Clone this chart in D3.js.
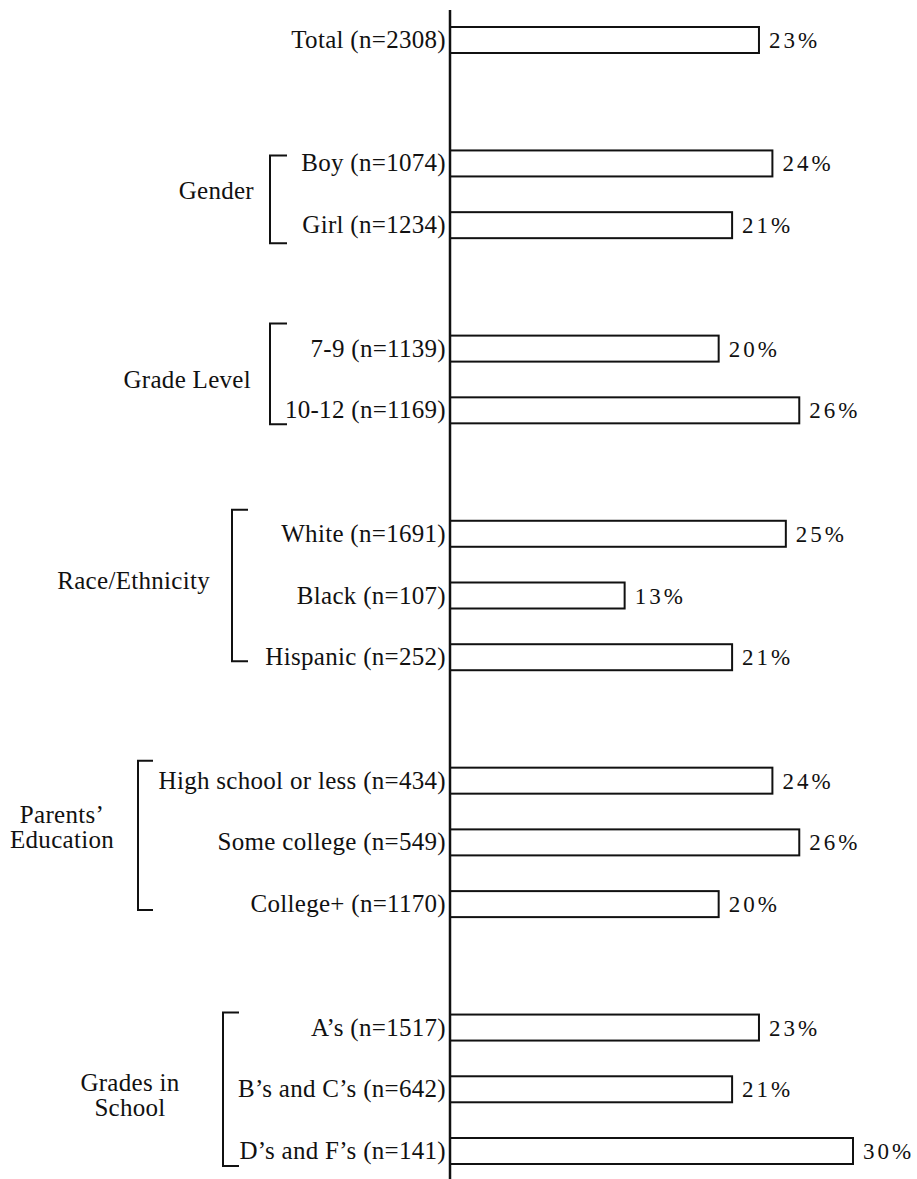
<!DOCTYPE html>
<html>
<head>
<meta charset="utf-8">
<script src="https://cdn.jsdelivr.net/npm/d3@7"></script>
<style>
  html, body { margin: 0; padding: 0; background: #fff; }
  svg { display: block; }
  text { font-family: "Liberation Serif", "Times New Roman", serif; fill: #111; }
</style>
</head>
<body>
<svg id="chart" width="917" height="1179"></svg>
<script>
// ---- data ----
const groups = ["Total", "Gender", "Grade Level", "Race/Ethnicity", "Parents’ Education", "Grades in School"];
const categories = [
  "Total (n=2308)",
  "Boy (n=1074)", "Girl (n=1234)",
  "7-9 (n=1139)", "10-12 (n=1169)",
  "White (n=1691)", "Black (n=107)", "Hispanic (n=252)",
  "High school or less (n=434)", "Some college (n=549)", "College+ (n=1170)",
  "A’s (n=1517)", "B’s and C’s (n=642)", "D’s and F’s (n=141)"
];
const categoryGroup = [0, 1, 1, 2, 2, 3, 3, 3, 4, 4, 4, 5, 5, 5];
const values = [23, 24, 21, 20, 26, 25, 13, 21, 24, 26, 20, 23, 21, 30];
const groupLabelLines = [
  [],
  ["Gender"],
  ["Grade Level"],
  ["Race/Ethnicity"],
  ["Parents’", "Education"],
  ["Grades in", "School"]
];

// ---- layout (not data) ----
const W = 917, H = 1179;
const axisX = 450;
const svg = d3.select("#chart");

// slots: one row per category, with a blank slot between groups
const slots = [];
categories.forEach((c, i) => {
  if (i > 0 && categoryGroup[i] !== categoryGroup[i - 1]) slots.push("gap" + i);
  slots.push(c);
});

const y = d3.scalePoint().domain(slots).range([40, 1151]);
const x = d3.scaleLinear().domain([0, 30]).range([axisX, 853]);
const barH = 26;

const rows = categories.map((c, i) => ({ cat: c, value: values[i], group: categoryGroup[i] }));

// bars
svg.append("g").selectAll("rect").data(rows).join("rect")
  .attr("x", x(0))
  .attr("y", d => y(d.cat) - barH / 2)
  .attr("width", d => x(d.value) - x(0))
  .attr("height", barH)
  .attr("fill", "#fff")
  .attr("stroke", "#111")
  .attr("stroke-width", 2);

// axis line
svg.append("line")
  .attr("x1", axisX).attr("x2", axisX)
  .attr("y1", 10).attr("y2", H)
  .attr("stroke", "#111").attr("stroke-width", 2.5);

// category labels
svg.append("g").selectAll("text").data(rows).join("text")
  .attr("x", axisX - 4)
  .attr("y", d => y(d.cat) + 8)
  .attr("text-anchor", "end")
  .style("font-size", "25px")
  .style("letter-spacing", "0.3px")
  .text(d => d.cat);

// value labels
svg.append("g").selectAll("text").data(rows).join("text")
  .attr("x", d => x(d.value) + 10)
  .attr("y", d => y(d.cat) + 8)
  .style("font-size", "23px")
  .style("letter-spacing", "3px")
  .text(d => d.value + "%");

// group brackets and labels
const groupLayout = {
  1: { bx: 270, top: -8, bottom: 18, tick: 17, lx: 254, anchor: "end", dy: -3 },
  2: { bx: 270, top: -25, bottom: 14, tick: 17, lx: 251, anchor: "end", dy: 1 },
  3: { bx: 232, top: -24, bottom: 4, tick: 16, lx: 210, anchor: "end", dy: -15 },
  4: { bx: 138, top: -20, bottom: 6, tick: 15, lx: 62, anchor: "middle", dy: -27 },
  5: { bx: 223, top: -15, bottom: 15, tick: 16, lx: 130, anchor: "middle", dy: -6 }
};

d3.range(1, groups.length).forEach(g => {
  const L = groupLayout[g];
  const members = rows.filter(r => r.group === g);
  const y0 = y(members[0].cat) + L.top;
  const y1 = y(members[members.length - 1].cat) + L.bottom;
  svg.append("path")
    .attr("d", `M${L.bx + L.tick},${y0}H${L.bx}V${y1}H${L.bx + L.tick}`)
    .attr("fill", "none").attr("stroke", "#111").attr("stroke-width", 2);
  const mid = (y(members[0].cat) + y(members[members.length - 1].cat)) / 2;
  const lines = groupLabelLines[g];
  const t = svg.append("text")
    .attr("text-anchor", L.anchor)
    .style("font-size", "25px")
    .style("letter-spacing", "0.3px");
  lines.forEach((ln, k) => {
    t.append("tspan")
      .attr("x", L.lx)
      .attr("y", mid + L.dy + 8 + k * 25)
      .text(ln);
  });
});
</script>
</body>
</html>
